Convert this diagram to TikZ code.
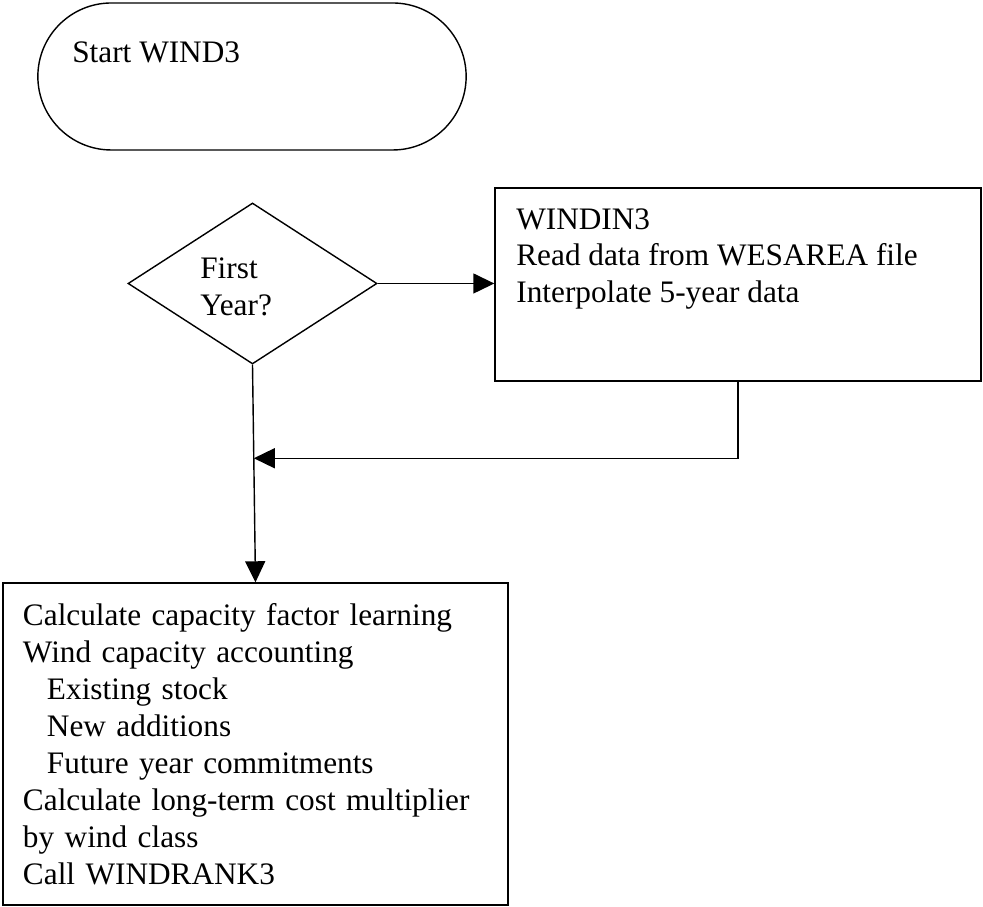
\documentclass[tikz,border=0pt]{standalone}
\usepackage{fontspec}
\setmainfont{Liberation Serif}
\usepackage{tikz}
\usetikzlibrary{arrows.meta}
\usetikzlibrary{positioning, shapes.geometric, shapes.misc, calc}
\tikzset{
terminal/.style = { rounded rectangle, draw = black, fill = white, minimum width = 8.8cm, minimum height = 2.94cm, line width = 0.8pt },
decision/.style = { diamond, draw = black, fill = white, minimum width = 4.98cm, minimum height = 3.22cm, inner sep = 0pt, line width = 0.8pt },
process/.style = { rectangle, draw = black, fill = white, line width = 0.8pt },
box text/.style = { align = left, inner sep = 0pt, anchor = base west },
flow/.style = { line width = 0.8pt, -{Triangle[length = 0.42cm, width = 0.4cm]} },
}

\begin{document}
\begin{tikzpicture}[font = \fontsize{17.8}{21.05}\selectfont]
      \useasboundingbox (0, 0) rectangle (19.66, 18.14);
      \node[terminal] (start) at (5.04, 16.61) {};
      \node[box text] (start text) at (1.44, 16.88) {Start WIND3};
      \node[decision] (first) at (5.05, 12.47) {};
      % base of a node with two or more lines is its last line
      \node[box text] (first text) at (4.0, 11.82) {First\\Year?};
      \node[process, minimum width = 9.72cm, minimum height = 3.86cm] (windin) at (14.76, 12.45) {};
      \node[box text] (windin text) at (10.32, 12.08) {WINDIN3\\Read data from WESAREA file\\Interpolate 5-year data};
      \node[process, minimum width = 10.1cm, minimum height = 6.44cm, text width = 9.3cm, inner xsep = 0.4cm, align = left] (calc) at (5.11, 3.26) {Calculate capacity factor learning\\Wind capacity accounting\\\hspace*{0.48cm}Existing stock\\\hspace*{0.48cm}New additions\\\hspace*{0.48cm}Future year commitments\\Calculate long-term cost multiplier\\by wind class\\Call WINDRANK3};
      \coordinate (merge) at ($(first.south)!0.43!(calc.north)$);
      \draw[flow] (first.east) -- (first.east -| windin.west);
      \draw[flow] (windin.south) |- (merge);
      \draw[flow] (first.south) -- (calc.north);
\end{tikzpicture}
\end{document}
